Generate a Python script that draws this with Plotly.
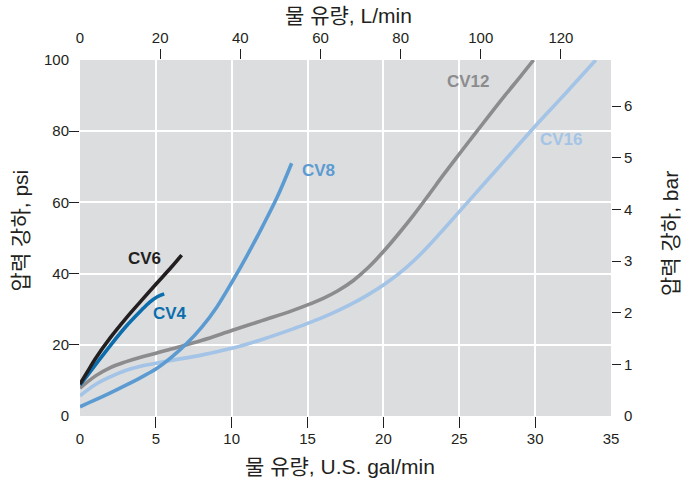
import plotly.graph_objects as go

# ---------------- data (flow in U.S. gal/min, pressure drop in psi) ----------------
cv6_gal = [0, 0.5, 1, 2, 3, 4, 5, 6, 6.7]
cv6_psi = [9, 12.5, 16, 22, 27.3, 32.2, 37, 41.7, 45.2]

cv4_gal = [0, 0.5, 1, 2, 3, 4, 4.6, 5.1, 5.55]
cv4_psi = [8.7, 11.5, 14.3, 19.8, 25, 29.5, 32, 33.5, 34.3]

cv8_gal = [0, 1, 2, 3, 4, 5, 6, 7, 8, 9, 10, 11, 12, 13, 13.95]
cv8_psi = [2.6, 4.5, 6.5, 8.6, 10.8, 13.2, 16.4, 20.2, 24.8, 30.5, 37.5, 45, 53, 61.5, 71]

cv12_gal = [0, 1, 2, 3, 4, 5, 6, 8, 10, 12, 14, 15, 16, 17, 18, 19, 20, 21, 22, 23, 24, 25, 26, 27, 28, 29, 29.9]
cv12_psi = [7.8, 11.2, 13.6, 15.2, 16.5, 17.6, 18.8, 21.2, 24, 26.8, 29.6, 31.2, 33, 35.2, 38, 41.7, 46.2, 51.2, 56.5, 62.2, 68, 73.6, 79.1, 84.6, 90, 95.2, 100]

cv16_gal = [0, 1, 2, 3, 4, 5, 6, 8, 10, 12, 14, 15, 16, 17, 18, 19, 20, 21, 22, 23, 24, 25, 26, 27, 28, 29, 30, 31, 32, 33, 34]
cv16_psi = [5.7, 8.8, 11, 12.8, 14, 14.8, 15.6, 17.1, 19, 21.5, 24.4, 26, 27.7, 29.6, 31.7, 34.1, 36.8, 39.9, 43.6, 47.9, 52.6, 57.4, 62.2, 67, 71.8, 76.6, 81.4, 86, 90.6, 95.3, 100]

series_names = ["CV6", "CV4", "CV8", "CV12", "CV16"]
series_colors = ["#231f20", "#0b6dac", "#5b9bd1", "#8c8c8e", "#a3c4e6"]
label_gal = [4.25, 5.9, 15.75, 25.6, 31.75]
label_psi = [44.3, 28.7, 69.1, 93.9, 77.7]

# axes / ticks
gal_label_vals = [0, 5, 10, 15, 20, 25, 30, 35]
gal_mark_vals = [5, 10, 15, 20, 25, 30]
psi_label_vals = [0, 20, 40, 60, 80, 100]
psi_mark_vals = [20, 40, 60, 80]
lpm_label_vals = [0, 20, 40, 60, 80, 100, 120]
lpm_mark_vals = [20, 40, 60, 80, 100, 120]
bar_label_vals = [0, 1, 2, 3, 4, 5, 6]
bar_mark_vals = [1, 2, 3, 4, 5, 6]

GAL_MAX = 35
PSI_MAX = 100
L_PER_GAL = 3.78541
BAR_PER_PSI = 1 / 14.5038

title_bottom = "물 유량, U.S. gal/min"
title_top = "물 유량, L/min"
title_left = "압력 강하, psi"
title_right = "압력 강하, bar"

FONT = "Liberation Sans, Arial, Noto Sans CJK KR, sans-serif"
TXT = "#231f20"
BG = "#dcdddf"

fig = go.Figure()
data = [(cv6_gal, cv6_psi), (cv4_gal, cv4_psi), (cv8_gal, cv8_psi),
        (cv12_gal, cv12_psi), (cv16_gal, cv16_psi)]
order = [4, 3, 2, 1, 0]
for i in order:
    gx, gy = data[i]
    fig.add_trace(go.Scatter(x=gx, y=gy, mode="lines", name=series_names[i],
                             line=dict(color=series_colors[i], width=3.6, shape="spline", smoothing=1),
                             hoverinfo="x+y+name"))

# empty helper traces so the secondary / label axes get drawn
for xa, ya in [("x2", "y"), ("x3", "y"), ("x4", "y"), ("x", "y2"), ("x", "y3"), ("x", "y4")]:
    fig.add_trace(go.Scatter(x=[None], y=[None], xaxis=xa, yaxis=ya, mode="lines",
                             showlegend=False, hoverinfo="skip"))

for i, name in enumerate(series_names):
    fig.add_annotation(x=label_gal[i], y=label_psi[i], xref="x", yref="y", text=f"<b>{name}</b>",
                       showarrow=False, font=dict(family=FONT, size=17, color=series_colors[i]))

tickfont = dict(family=FONT, size=15, color=TXT)
common = dict(zeroline=False, showline=False, fixedrange=True)

mark = dict(ticks="outside", tickwidth=1.4, tickcolor=TXT, showticklabels=False, **common)
lab = dict(ticks="outside", tickwidth=1.4, tickcolor="rgba(0,0,0,0)", showticklabels=True,
           showgrid=False, tickfont=tickfont, **common)

fig.update_layout(
    width=692, height=486,
    margin=dict(l=80, r=81, t=60, b=70),
    paper_bgcolor="white", plot_bgcolor=BG,
    showlegend=False,
    font=dict(family=FONT, color=TXT),
    xaxis=dict(range=[0, GAL_MAX], tickvals=gal_mark_vals, ticklen=11, anchor="y", side="bottom",
               showgrid=True, gridcolor="white", gridwidth=1.5, **mark),
    xaxis3=dict(range=[0, GAL_MAX], tickvals=gal_label_vals, ticklen=11, anchor="y", side="bottom",
                overlaying="x", ticklabelstandoff=-2, **lab),
    xaxis2=dict(range=[0, GAL_MAX * L_PER_GAL], tickvals=lpm_mark_vals, ticklen=10, anchor="y", side="top",
                overlaying="x", showgrid=False, **mark),
    xaxis4=dict(range=[0, GAL_MAX * L_PER_GAL], tickvals=lpm_label_vals, ticklen=10, anchor="y", side="top",
                overlaying="x", **lab),
    yaxis=dict(range=[0, PSI_MAX], tickvals=psi_mark_vals, ticklen=10, anchor="x", side="left",
               showgrid=True, gridcolor="white", gridwidth=1.5, **mark),
    yaxis3=dict(range=[0, PSI_MAX], tickvals=psi_label_vals, ticklen=10, anchor="x", side="left",
                overlaying="y", ticklabelstandoff=-3, **lab),
    yaxis2=dict(range=[0, PSI_MAX * BAR_PER_PSI], tickvals=bar_mark_vals, ticklen=9, anchor="x", side="right",
                overlaying="y", showgrid=False, **mark),
    yaxis4=dict(range=[0, PSI_MAX * BAR_PER_PSI], tickvals=bar_label_vals, ticklen=9, anchor="x", side="right",
                overlaying="y", **lab),
)

title_font = dict(family=FONT, size=21, color=TXT)
fig.add_annotation(text=title_bottom, xref="paper", yref="paper", x=0.49, y=-0.143,
                   showarrow=False, font=title_font, xanchor="center", yanchor="middle")
fig.add_annotation(text=title_top, xref="paper", yref="paper", x=0.505, y=1.126,
                   showarrow=False, font=title_font, xanchor="center", yanchor="middle")
fig.add_annotation(text=title_left, xref="paper", yref="paper", x=-0.112, y=0.52, textangle=-90,
                   showarrow=False, font=title_font, xanchor="center", yanchor="middle")
fig.add_annotation(text=title_right, xref="paper", yref="paper", x=1.111, y=0.514, textangle=-90,
                   showarrow=False, font=title_font, xanchor="center", yanchor="middle")

# remove the page's default 8px body margin so the figure fills the window exactly
fig.write_html("out.html", config={"displayModeBar": False},
               post_script="document.body.style.margin='0px';")
